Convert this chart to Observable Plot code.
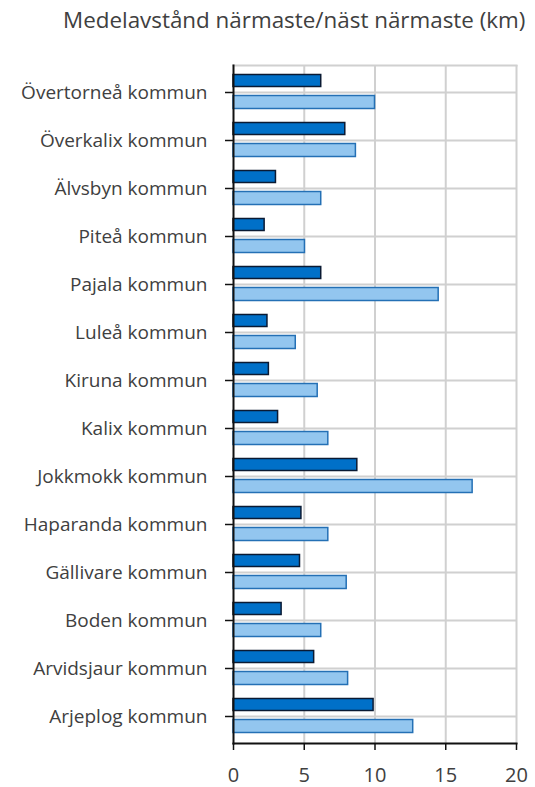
<!DOCTYPE html>
<html>
<head>
<meta charset="utf-8">
<script src="https://cdn.jsdelivr.net/npm/d3@7"></script>
<script src="https://cdn.jsdelivr.net/npm/@observablehq/plot@0.6"></script>
<style>
  html, body { margin: 0; padding: 0; background: #fff; }
  body { width: 535px; height: 787px; position: relative; overflow: hidden; font-family: "Open Sans", sans-serif; }
  #title { position: absolute; left: 63px; top: 5px; font-size: 22.4px; line-height: 30px; color: #404040; white-space: nowrap; }
  #chart { position: absolute; left: 0; top: 45px; }
</style>
</head>
<body>
<div id="title">Medelavstånd närmaste/näst närmaste (km)</div>
<div id="chart"></div>
<script>
const kommuner = [
  "Övertorneå kommun", "Överkalix kommun", "Älvsbyn kommun", "Piteå kommun",
  "Pajala kommun", "Luleå kommun", "Kiruna kommun", "Kalix kommun",
  "Jokkmokk kommun", "Haparanda kommun", "Gällivare kommun", "Boden kommun",
  "Arvidsjaur kommun", "Arjeplog kommun"
];
const narmaste =      [6.2, 7.9, 3.0, 2.2, 6.2, 2.4, 2.5, 3.15, 8.75, 4.8, 4.7, 3.4, 5.7, 9.9];
const nastNarmaste =  [10.0, 8.65, 6.2, 5.05, 14.5, 4.4, 5.95, 6.7, 16.9, 6.7, 8.0, 6.2, 8.1, 12.7];
const xTicks = [0, 5, 10, 15, 20];

const rows = kommuner.map((k, i) => ({kommun: k, a: narmaste[i], b: nastNarmaste[i]}));

const chart = Plot.plot({
  width: 535,
  height: 742,
  marginLeft: 233,
  marginRight: 19,
  marginTop: 20,
  marginBottom: 44,
  style: {fontFamily: "Open Sans, sans-serif", color: "#404040", background: "#fff", overflow: "visible"},
  x: {domain: [0, 20], ticks: xTicks},
  y: {domain: kommuner, padding: 0},
  marks: [
    Plot.gridX(xTicks.slice(1), {stroke: "#d0d0d0", strokeWidth: 2, strokeOpacity: 1}),
    Plot.gridY({stroke: "#d0d0d0", strokeWidth: 2, strokeOpacity: 1}),
    Plot.frame({anchor: "top", stroke: "#d0d0d0", strokeWidth: 2}),
    Plot.barX(rows, {x: "a", y: "kommun", fill: "#0070c8", stroke: "#0a1a33", strokeWidth: 1.5, insetTop: 6.5, insetBottom: 29.5}),
    Plot.barX(rows, {x: "b", y: "kommun", fill: "#93c6ef", stroke: "#2470b5", strokeWidth: 1.5, insetTop: 27.5, insetBottom: 7.5}),
    Plot.frame({anchor: "left", stroke: "#111", strokeWidth: 2}),
    Plot.frame({anchor: "bottom", stroke: "#111", strokeWidth: 2}),
    Plot.axisX({ticks: xTicks, tickSize: 7, tickPadding: 17, fontSize: 20, label: null, stroke: "#111", strokeWidth: 1.5}),
    Plot.axisY({tickSize: 8, tickPadding: 18, fontSize: 19, label: null, stroke: "#111", strokeWidth: 1.5})
  ]
});
document.getElementById("chart").appendChild(chart);
</script>
</body>
</html>
